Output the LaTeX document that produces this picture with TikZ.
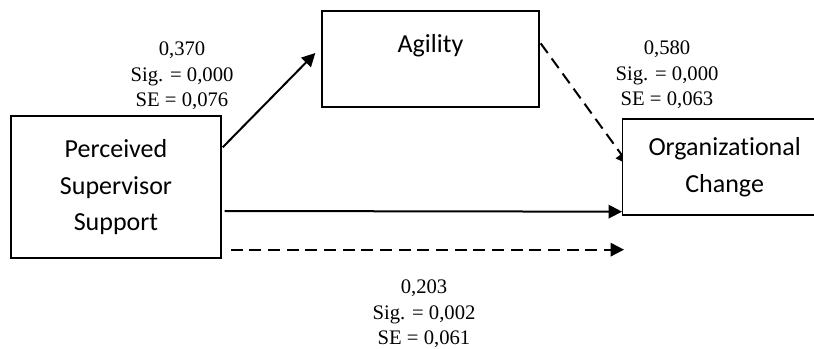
\documentclass[tikz,border=0pt]{standalone}
\usepackage{fontspec}
\setmainfont{Liberation Serif}
\newfontfamily\calfont[Ligatures=NoCommon]{Carlito}
\usetikzlibrary{arrows.meta,calc,backgrounds}
\tikzset{
  boxnode/.style={draw, fill=white, line width=1pt, rectangle, inner sep=0pt,
    font=\calfont\fontsize{19.5}{27.5}\selectfont},
  statlabel/.style={inner sep=0pt, font=\fontsize{15.5}{19.3}\selectfont},
  conn/.style={line width=1.5pt, -{Triangle[length=10pt,width=10pt]}},
  dashconn/.style={conn, dash pattern=on 9pt off 5pt}
}
\begin{document}
\begin{tikzpicture}[x=0.75pt,y=-0.75pt]
\useasboundingbox (0,0) rectangle (814,349);
\node[boxnode, minimum width=157.5pt, minimum height=106.5pt] (PSS) at (116,187)
  {\raisebox{6pt}{\begin{tabular}{@{}c@{}}Perceived\\Supervisor\\Support\end{tabular}}};
\node[boxnode, minimum width=162.75pt, minimum height=72pt] (AG) at (430.5,59)
  {\raisebox{4.5pt}[0pt][0pt]{Agility}};
\node[boxnode, minimum width=180pt, minimum height=72pt, anchor=west] (OC) at (622,167)
  {\hspace*{-27pt}\raisebox{2pt}{\begin{tabular}{@{}c@{}}Organizational\\Change\end{tabular}}};
\node[statlabel] (L1) at (182,76) {\begin{tabular}{@{}c@{}}0,370\\Sig. = 0,000\\SE = 0,076\end{tabular}};
\node[statlabel] (L2) at (667,75) {\begin{tabular}{@{}c@{}}0,580\\Sig. = 0,000\\SE = 0,063\end{tabular}};
\node[statlabel] (L3) at (424,314) {\begin{tabular}{@{}c@{}}0,203\\Sig. = 0,002\\SE = 0,061\end{tabular}};
\coordinate (dashstart) at ($(PSS.south east)+(9,-9)$);
\coordinate (dashend) at ($(OC.south west)+(2,34)$);
\begin{scope}[on background layer]
\draw[conn] ($(PSS.north east)+(1,32)$) -- ($(AG.west)+(-6,-6)$);
\draw[dashconn] ($(AG.north east)+(1,33)$) -- ($(OC.west)+(7,-2)$);
\draw[conn] ($(PSS.east)+(3,24)$) -- ($(OC.south west)+(0,-4)$);
\draw[dashconn] (dashstart) -- (dashend);
\end{scope}
\end{tikzpicture}
\end{document}
